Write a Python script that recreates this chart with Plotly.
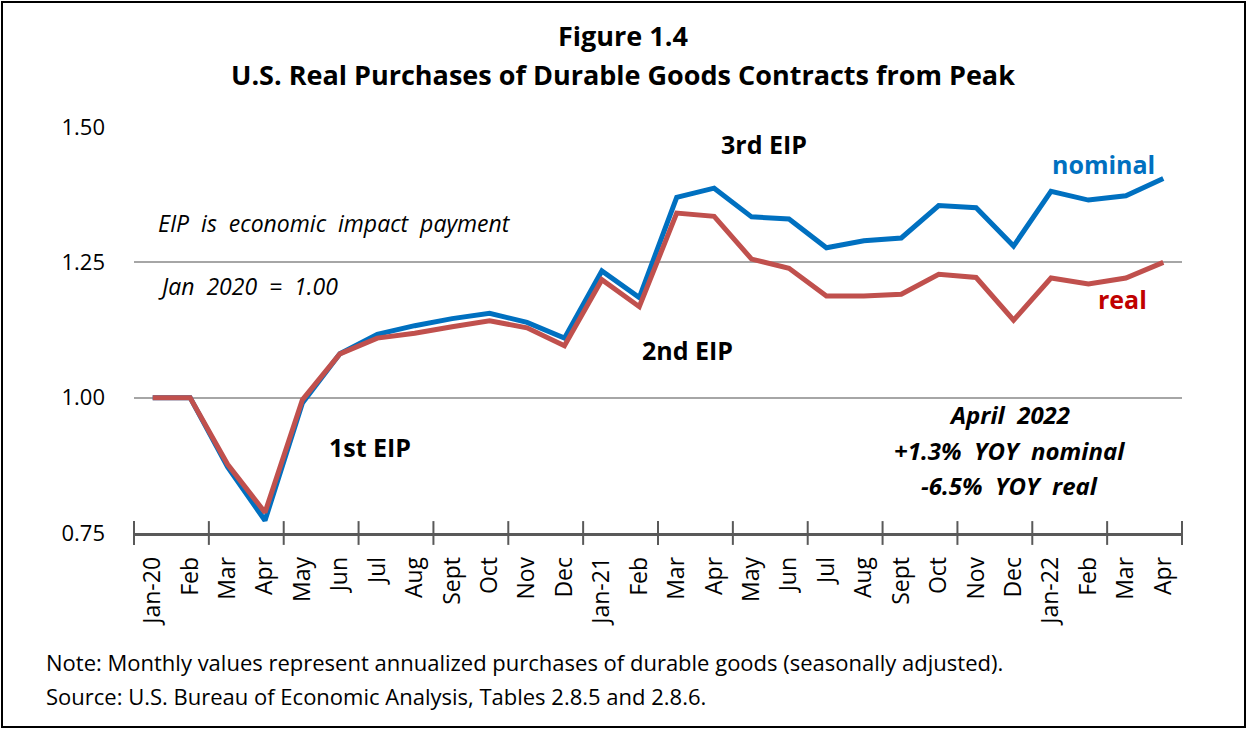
import plotly.graph_objects as go

months = ["Jan-20", "Feb", "Mar", "Apr", "May", "Jun", "Jul", "Aug", "Sept", "Oct", "Nov", "Dec",
          "Jan-21", "Feb", "Mar", "Apr", "May", "Jun", "Jul", "Aug", "Sept", "Oct", "Nov", "Dec",
          "Jan-22", "Feb", "Mar", "Apr"]
nominal = [1.000, 1.000, 0.872, 0.773, 0.990, 1.081, 1.117, 1.133, 1.146, 1.156, 1.139, 1.110,
           1.234, 1.185, 1.370, 1.387, 1.334, 1.330, 1.277, 1.290, 1.295, 1.355, 1.351, 1.280,
           1.381, 1.365, 1.373, 1.405]
real = [1.000, 1.000, 0.877, 0.788, 0.996, 1.081, 1.110, 1.119, 1.131, 1.142, 1.129, 1.096,
        1.218, 1.168, 1.341, 1.335, 1.256, 1.239, 1.188, 1.188, 1.191, 1.228, 1.222, 1.143,
        1.221, 1.210, 1.221, 1.250]
y_ticks = [0.75, 1.00, 1.25, 1.50]

FONT = "Open Sans"
x = list(range(len(months)))
tick_pos = [i - 0.5 for i in range(0, len(months) + 1, 2)]

fig = go.Figure()
fig.add_trace(go.Scatter(x=x, y=nominal, mode="lines", line=dict(color="#0070C0", width=5),
                         hoverinfo="skip", showlegend=False))
fig.add_trace(go.Scatter(x=x, y=real, mode="lines", line=dict(color="#C0504D", width=5),
                         hoverinfo="skip", showlegend=False))
# axis tick marks crossing the axis line at category boundaries
fig.add_trace(go.Scatter(x=tick_pos, y=[y_ticks[0]] * len(tick_pos), mode="markers",
                         marker=dict(symbol="line-ns", size=17, line=dict(color="#595959", width=2)),
                         cliponaxis=False, hoverinfo="skip", showlegend=False))

fig.update_layout(
    width=1247, height=729,
    margin=dict(l=134, r=65, t=127, b=196),
    paper_bgcolor="white", plot_bgcolor="white",
    font=dict(family=FONT, color="black"),
    showlegend=False,
)
fig.update_xaxes(range=[-0.5, len(months) - 0.5], tickmode="array", tickvals=x, ticktext=months,
                 tickangle=-90, tickfont=dict(size=23, family=FONT), ticks="", ticklabelstandoff=12,
                 showgrid=False, zeroline=False, showline=True, linecolor="#595959", linewidth=2.5)
fig.update_yaxes(range=[0.75, 1.5], tickmode="array", tickvals=y_ticks,
                 ticktext=[f"{v:.2f}" for v in y_ticks], tickfont=dict(size=22, family=FONT),
                 ticks="", ticklabelstandoff=28, showgrid=True, gridcolor="#A6A6A6", gridwidth=2,
                 zeroline=False, showline=False)

ann = []
def add(text, xx, yy, xref="x", yref="y", size=25, color="black", bold=True, italic=False,
        xanchor="center", yanchor="middle", align="center"):
    t = text
    if bold:
        t = f"<b>{t}</b>"
    if italic:
        t = f"<i>{t}</i>"
    ann.append(dict(text=t, x=xx, y=yy, xref=xref, yref=yref, showarrow=False,
                    font=dict(size=size, color=color, family=FONT), xanchor=xanchor,
                    yanchor=yanchor, align=align))

# titles
add("Figure 1.4", 0.4666, 1.2266, "paper", "paper", size=27)
add("U.S. Real Purchases of Durable Goods Contracts from Peak", 0.4666, 1.1305, "paper", "paper", size=27)
# in-chart labels
add("3rd EIP", 16.33, 1.469)
add("2nd EIP", 14.3, 1.0886)
add("1st EIP", 5.8, 0.908)
add("nominal", 25.39, 1.432, color="#0070C0")
add("real", 25.92, 1.183, color="#C00000")
add("EIP  is  economic  impact  payment", 0.1, 1.323, size=23, bold=False, italic=True, xanchor="left")
add("Jan  2020  =  1.00", 0.1, 1.2066, size=23, bold=False, italic=True, xanchor="left")
add("April  2022", 22.9, 0.9686, size=24, italic=True)
add("+1.3%  YOY  nominal", 22.9, 0.902, size=24, italic=True)
add("-6.5%  YOY  real", 22.9, 0.838, size=24, italic=True)
# notes
add("Note: Monthly values represent annualized purchases of durable goods (seasonally adjusted).",
    -0.0859, -0.318, "paper", "paper", size=22, bold=False, xanchor="left")
add("Source: U.S. Bureau of Economic Analysis, Tables 2.8.5 and 2.8.6.",
    -0.0859, -0.401, "paper", "paper", size=22, bold=False, xanchor="left")
fig.update_layout(annotations=ann)

# outer frame
fig.add_shape(type="rect", xref="paper", yref="paper",
              x0=(2 - 134) / 1048, x1=(1245 - 134) / 1048,
              y0=(533 - 727) / 406, y1=(533 - 2) / 406,
              line=dict(color="black", width=2), fillcolor="rgba(0,0,0,0)", layer="above")

fig.write_html("out.html", config={"displayModeBar": False},
               post_script="document.body.style.margin='0px';")
